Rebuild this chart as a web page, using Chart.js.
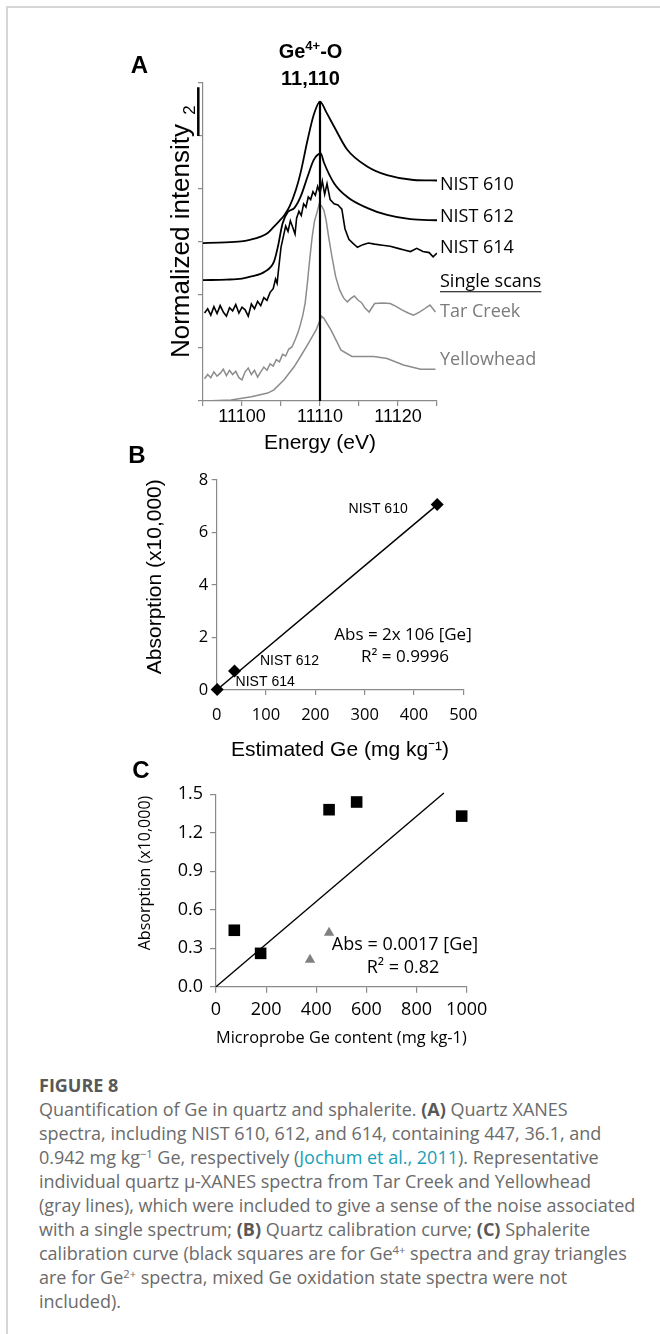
<!DOCTYPE html>
<html lang="en">
<head>
<meta charset="UTF-8">
<title>Figure 8</title>
<style>
  body {
    margin: 0;
    width: 660px;
    height: 1334px;
    position: relative;
    overflow: hidden;
    background: #fff;
  }
  .frame {
    position: absolute;
    left: 6px; top: 6px; right: 0; bottom: 0;
    border-top: 2px solid #d6d6d6;
    border-left: 2px solid #d6d6d6;
  }
  canvas { position: absolute; }
  #chartA { left: 110px; top: 30px; }
  #chartB { left: 110px; top: 440px; }
  #chartC { left: 110px; top: 760px; }
  .caption {
    position: absolute;
    left: 39px; top: 1073px;
    font-family: "Open Sans", sans-serif;
    font-size: 18px;
    line-height: 24px;
    color: #6b6b6b;
    white-space: nowrap;
  }
  .caption .fig { font-weight: bold; font-size: 18px; color: #585858; }
  .caption b { color: #585858; }
  .caption sup { font-size: 0.62em; line-height: 0; vertical-align: 0.5em; }
  .caption .ref { color: #1a9fb8; }
</style>
</head>
<body>
<div class="frame"></div>
<canvas id="chartA" width="450" height="430"></canvas>
<canvas id="chartB" width="400" height="330"></canvas>
<canvas id="chartC" width="400" height="290"></canvas>

<div class="caption">
  <div class="fig">FIGURE 8</div>
  Quantification of Ge in quartz and sphalerite. <b>(A)</b> Quartz XANES<br>
  spectra, including NIST 610, 612, and 614, containing 447, 36.1, and<br>
  0.942 mg kg<sup>−1</sup> Ge, respectively (<span class="ref">Jochum et al., 2011</span>). Representative<br>
  individual quartz μ-XANES spectra from Tar Creek and Yellowhead<br>
  (gray lines), which were included to give a sense of the noise associated<br>
  with a single spectrum; <b>(B)</b> Quartz calibration curve; <b>(C)</b> Sphalerite<br>
  calibration curve (black squares are for Ge<sup>4+</sup> spectra and gray triangles<br>
  are for Ge<sup>2+</sup> spectra, mixed Ge oxidation state spectra were not<br>
  included).
</div>

<script src="https://cdn.jsdelivr.net/npm/chart.js"></script>
<script>
  // ---- Panel A: stacked XANES spectra (energy in eV, normalized intensity offset) ----
  const energy610 = [11095, 11097, 11099.9, 11101, 11102.4, 11103.3, 11104.1, 11104.8, 11105.4, 11106.1, 11106.9, 11107.5, 11108.4, 11109.2, 11110.0, 11110.8, 11111.8, 11113.5, 11116.1, 11118.6, 11122, 11125];
  const nist610 = [2.98, 2.99, 3.01, 3.04, 3.10, 3.17, 3.29, 3.40, 3.50, 3.67, 3.98, 4.30, 4.92, 5.40, 5.65, 5.45, 5.18, 4.74, 4.42, 4.26, 4.17, 4.16];

  const energy612 = [11095, 11098, 11100, 11101.2, 11102.9, 11104.1, 11104.6, 11105.2, 11105.9, 11106.7, 11107.5, 11108.4, 11109.2, 11110.1, 11110.5, 11111.8, 11113.5, 11116.1, 11118.6, 11121.6, 11125];
  const nist612 = [2.28, 2.29, 2.31, 2.35, 2.44, 2.63, 2.91, 3.35, 3.57, 3.64, 3.85, 4.23, 4.55, 4.67, 4.50, 4.11, 3.85, 3.64, 3.51, 3.43, 3.41];

  const energy614 = [11095.2, 11095.6, 11096.0, 11096.4, 11096.8, 11097.2, 11097.6, 11098.0, 11098.4, 11098.8,
    11099.2, 11099.6, 11100.0, 11100.4, 11100.8, 11101.2, 11101.6, 11102.0, 11102.4, 11102.8,
    11103.2, 11103.6, 11104.0, 11104.3, 11104.5, 11104.7, 11105.0, 11105.3, 11105.6, 11105.9,
    11106.2, 11106.5, 11106.8, 11107.0, 11107.3, 11107.6, 11107.9, 11108.2, 11108.5, 11108.8,
    11109.1, 11109.4, 11109.7, 11110.0, 11110.3, 11110.6, 11110.9, 11111.3, 11111.8, 11112.3,
    11112.8, 11113.2, 11113.7, 11114.2, 11114.8, 11115.5, 11116.2, 11117.0, 11118.0, 11119.0,
    11120.0, 11120.8, 11121.6, 11122.4, 11123.2, 11124.0, 11124.5, 11125.0];
  const nist614 = [1.66, 1.74, 1.62, 1.78, 1.65, 1.80, 1.68, 1.60, 1.76, 1.70,
    1.82, 1.66, 1.77, 1.72, 1.60, 1.83, 1.74, 1.88, 1.80, 1.95,
    1.90, 2.05, 2.12, 2.30, 2.22, 2.50, 2.90, 3.10, 3.30, 3.20,
    3.40, 3.28, 3.15, 3.45, 3.58, 3.50, 3.72, 3.66, 3.85, 3.80,
    3.95, 3.88, 4.05, 3.92, 4.15, 3.90, 4.10, 3.80, 3.72, 3.70,
    3.62, 3.25, 3.05, 2.98, 2.90, 2.95, 2.98, 2.96, 2.94, 2.92,
    2.88, 2.85, 2.82, 2.88, 2.82, 2.80, 2.72, 2.79];

  const energyTar = [11095.2, 11095.6, 11096.0, 11096.4, 11096.8, 11097.2, 11097.6, 11098.0, 11098.4, 11098.8,
    11099.2, 11099.6, 11100.0, 11100.4, 11100.8, 11101.2, 11101.6, 11102.0, 11102.4, 11102.8,
    11103.2, 11103.6, 11104.0, 11104.4, 11104.8, 11105.2, 11105.6, 11106.0, 11106.4, 11106.8,
    11107.2, 11107.5, 11107.8, 11108.1, 11108.4, 11108.7, 11109.0, 11109.3, 11109.6, 11109.9,
    11110.2, 11110.5, 11110.8, 11111.1, 11111.5, 11112.0, 11112.5, 11113.0, 11113.5, 11114.0,
    11114.4, 11114.9, 11115.3, 11115.8, 11116.3, 11117.0, 11118.0, 11119.0, 11119.8, 11120.5,
    11121.3, 11122.0, 11122.8, 11123.5, 11124.1, 11124.8];
  const tarCreek = [0.42, 0.50, 0.44, 0.55, 0.47, 0.52, 0.60, 0.48, 0.58, 0.50,
    0.56, 0.44, 0.40, 0.55, 0.62, 0.50, 0.58, 0.45, 0.55, 0.64,
    0.58, 0.70, 0.66, 0.78, 0.74, 0.88, 0.85, 0.98, 1.02, 1.15,
    1.30, 1.45, 1.62, 1.85, 2.25, 2.70, 3.10, 3.40, 3.55, 3.72,
    3.68, 3.60, 3.40, 3.10, 2.75, 2.35, 2.10, 1.95, 1.87, 1.94,
    1.98, 1.90, 1.86, 1.75, 1.68, 1.84, 1.85, 1.84, 1.78, 1.72,
    1.66, 1.62, 1.68, 1.75, 1.81, 1.68];

  const energyYellow = [11095.2, 11098.6, 11101.2, 11103.3, 11104.1, 11105.4, 11106.7, 11107.5, 11108.4, 11109.5, 11110.2, 11110.5, 11111.4, 11112.7, 11114.1, 11116.9, 11118.6, 11120.7, 11122.9, 11124.8];
  const yellowhead = [0.0, 0.02, 0.08, 0.15, 0.21, 0.40, 0.65, 0.84, 1.06, 1.34, 1.60, 1.56, 1.34, 0.96, 0.84, 0.84, 0.80, 0.68, 0.60, 0.60];

  const peakEnergy = [11110, 11110];
  const peakLine = [0, 5.66];

  const spectrumNames = ['NIST 610', 'NIST 612', 'NIST 614', 'Single scans', 'Tar Creek', 'Yellowhead'];
  const spectrumLabelY = [4.08, 3.47, 2.89, 2.25, 1.68, 0.77];

  // ---- Panel B: quartz calibration ----
  const geEstimated = [447, 36.1, 0.942];
  const absQuartz = [7.07, 0.72, 0.02];
  const standardNames = ['NIST 610', 'NIST 612', 'NIST 614'];
  const fitQuartzX = [0, 450];
  const fitQuartzY = [0, 7.10];

  // ---- Panel C: sphalerite calibration ----
  const geMicroprobe4 = [73, 178, 451, 561, 980];
  const absGe4 = [0.44, 0.26, 1.38, 1.44, 1.33];
  const geMicroprobe2 = [375, 451];
  const absGe2 = [0.21, 0.42];
  const fitSphalX = [0, 909];
  const fitSphalY = [0, 1.51];

  const SANS = 'Liberation Sans, Arial, sans-serif';
  const OPEN = 'Open Sans, sans-serif';
  const AXIS = '#8a8a8a';
  const GRAY = '#8c8c8c';

  function pts(xs, ys) {
    return xs.map((x, i) => ({ x: x, y: ys[i] }));
  }

  function curve(xs, ys, color, width, smooth) {
    return {
      data: pts(xs, ys),
      showLine: true,
      borderColor: color,
      borderWidth: width,
      pointRadius: 0,
      cubicInterpolationMode: smooth ? 'monotone' : 'default',
      tension: 0,
      fill: false
    };
  }

  function text(ctx, str, x, y, font, color, align, rotate) {
    ctx.save();
    ctx.font = font;
    ctx.fillStyle = color || '#000';
    ctx.textAlign = align || 'center';
    ctx.textBaseline = 'middle';
    ctx.translate(x, y);
    if (rotate) ctx.rotate(rotate);
    ctx.fillText(str, 0, 0);
    ctx.restore();
  }

  function axis(opts) {
    return Object.assign({
      type: 'linear',
      grid: { drawOnChartArea: false, tickLength: 5, color: AXIS, lineWidth: 1.2 },
      border: { color: AXIS, width: 1.2 }
    }, opts);
  }

  const base = {
    animation: false,
    responsive: false,
    events: [],
    plugins: { legend: { display: false }, tooltip: { enabled: false } }
  };

  // Panel A
  new Chart(document.getElementById('chartA'), {
    type: 'scatter',
    data: {
      datasets: [
        curve(peakEnergy, peakLine, '#000', 2.2, false),
        curve(energy610, nist610, '#000', 1.8, true),
        curve(energy612, nist612, '#000', 1.8, true),
        curve(energy614, nist614, '#000', 1.6, false),
        curve(energyTar, tarCreek, GRAY, 1.5, false),
        curve(energyYellow, yellowhead, GRAY, 1.5, false)
      ]
    },
    options: Object.assign({}, base, {
      layout: { padding: { top: 53, right: 123, left: 0, bottom: 0 } },
      scales: {
        x: axis({
          min: 11095, max: 11125,
          ticks: {
            stepSize: 5, autoSkip: false, maxRotation: 0, padding: 0, color: '#000',
            font: { family: SANS, size: 18 },
            callback: v => (v % 10 === 0 ? String(v) : '')
          },
          title: { display: true, text: 'Energy (eV)', color: '#000', font: { family: SANS, size: 21 }, padding: { top: 0, bottom: 4.4 } },
          afterFit: s => { s.height = 59; }
        }),
        y: axis({
          min: 0, max: 6,
          ticks: { stepSize: 1, padding: 0, callback: () => '' },
          afterFit: s => { s.width = 93; }
        })
      }
    }),
    plugins: [{
      id: 'panelAText',
      afterDraw(chart) {
        const ctx = chart.ctx, xs = chart.scales.x, ys = chart.scales.y, area = chart.chartArea;
        text(ctx, 'A', 29.5, 36.5, 'bold 24px ' + SANS);
        text(ctx, 'Normalized intensity', 71.7, (area.top + area.bottom) / 2 - 1, '26px ' + SANS, '#000', 'center', -Math.PI / 2);

        // scale bar
        ctx.save();
        ctx.strokeStyle = '#000';
        ctx.lineWidth = 2.5;
        ctx.beginPath();
        ctx.moveTo(area.left - 4.7, ys.getPixelForValue(5.92));
        ctx.lineTo(area.left - 4.7, ys.getPixelForValue(5.0));
        ctx.stroke();
        ctx.restore();
        text(ctx, '2', area.left - 13, ys.getPixelForValue(5.49), '17px ' + SANS, '#000', 'center', -Math.PI / 2);

        // peak annotation: Ge4+-O / 11,110
        const cx = xs.getPixelForValue(11110) - 9.5;
        ctx.save();
        ctx.fillStyle = '#000';
        ctx.textBaseline = 'middle';
        const big = 'bold 20px ' + SANS, small = 'bold 13px ' + SANS;
        ctx.font = big; const w1 = ctx.measureText('Ge').width, w3 = ctx.measureText('-O').width;
        ctx.font = small; const w2 = ctx.measureText('4+').width;
        let x0 = cx - (w1 + w2 + w3) / 2;
        ctx.textAlign = 'left';
        ctx.font = big; ctx.fillText('Ge', x0, 22);
        ctx.font = small; ctx.fillText('4+', x0 + w1, 16);
        ctx.font = big; ctx.fillText('-O', x0 + w1 + w2, 22);
        ctx.restore();
        text(ctx, '11,110', cx, 49, big);

        // curve labels
        spectrumNames.forEach((name, i) => {
          const gray = name === 'Tar Creek' || name === 'Yellowhead';
          const y = ys.getPixelForValue(spectrumLabelY[i]);
          text(ctx, name, area.right + 3, y, '18px ' + OPEN, gray ? '#7b7b7b' : '#000', 'left');
          if (name === 'Single scans') {
            ctx.save();
            ctx.font = '18px ' + OPEN;
            const w = ctx.measureText(name).width;
            ctx.strokeStyle = '#000';
            ctx.lineWidth = 1.2;
            ctx.beginPath();
            ctx.moveTo(area.right + 3, y + 10);
            ctx.lineTo(area.right + 3 + w, y + 10);
            ctx.stroke();
            ctx.restore();
          }
        });
      }
    }]
  });

  // Panel B
  new Chart(document.getElementById('chartB'), {
    type: 'scatter',
    data: {
      datasets: [
        {
          data: pts(geEstimated, absQuartz),
          pointStyle: 'rectRot', pointRadius: 6.5,
          pointBackgroundColor: '#000', pointBorderColor: '#000', pointBorderWidth: 0,
          clip: false
        },
        Object.assign(curve(fitQuartzX, fitQuartzY, '#000', 1.5, false), { clip: false })
      ]
    },
    options: Object.assign({}, base, {
      layout: { padding: { top: 40, right: 46.7, left: 0, bottom: 0 } },
      scales: {
        x: axis({
          min: 0, max: 500,
          ticks: { stepSize: 100, padding: 10, color: '#000', maxRotation: 0, font: { family: OPEN, size: 16.5 } },
          title: { display: true, text: 'Estimated Ge (mg kg\u207B\u00B9)', color: '#000', font: { family: SANS, size: 21 }, padding: { top: 0, bottom: 7.4 } },
          afterFit: s => { s.height = 80; }
        }),
        y: axis({
          min: 0, max: 8,
          ticks: { stepSize: 2, padding: 3.4, color: '#000', font: { family: OPEN, size: 16.5 } },
          afterFit: s => { s.width = 106.7; }
        })
      }
    }),
    plugins: [{
      id: 'panelBText',
      afterDraw(chart) {
        const ctx = chart.ctx, xs = chart.scales.x, ys = chart.scales.y;
        text(ctx, 'B', 27, 16, 'bold 24px ' + SANS);
        text(ctx, 'Absorption (x10,000)', 45, 136.7, '21px ' + SANS, '#000', 'center', -Math.PI / 2);
        const offsets = [[-59, 5], [55, -10], [48, -7]];
        standardNames.forEach((name, i) => {
          text(ctx, name, xs.getPixelForValue(geEstimated[i]) + offsets[i][0],
            ys.getPixelForValue(absQuartz[i]) + offsets[i][1], '14px ' + SANS);
        });
        text(ctx, 'Abs = 2x 106 [Ge]', 293, 195, '17px ' + OPEN);
        text(ctx, 'R\u00B2 = 0.9996', 295, 217, '17px ' + OPEN);
      }
    }]
  });

  // Panel C
  new Chart(document.getElementById('chartC'), {
    type: 'scatter',
    data: {
      datasets: [
        {
          data: pts(geMicroprobe4, absGe4),
          pointStyle: 'rect', pointRadius: 8.2,
          pointBackgroundColor: '#000', pointBorderColor: '#000', pointBorderWidth: 0,
          clip: false
        },
        {
          data: pts(geMicroprobe2, absGe2),
          pointStyle: 'triangle', pointRadius: 6,
          pointBackgroundColor: '#808080', pointBorderColor: '#808080', pointBorderWidth: 0,
          clip: false
        },
        Object.assign(curve(fitSphalX, fitSphalY, '#000', 1.4, false), { clip: false })
      ]
    },
    options: Object.assign({}, base, {
      layout: { padding: { top: 34.3, right: 43.3, left: 0, bottom: 0 } },
      scales: {
        x: axis({
          min: 0, max: 1000,
          grid: { drawOnChartArea: false, tickLength: 6, color: AXIS, lineWidth: 1.2 },
          ticks: { stepSize: 200, padding: 6.5, color: '#000', maxRotation: 0, font: { family: OPEN, size: 18 }, callback: v => String(v) },
          title: { display: true, text: 'Microprobe Ge content (mg kg-1)', color: '#000', font: { family: OPEN, size: 17 }, padding: { top: 0, bottom: 1.8 } },
          afterFit: s => { s.height = 63.3; }
        }),
        y: axis({
          min: 0, max: 1.5,
          grid: { drawOnChartArea: false, tickLength: 6, color: AXIS, lineWidth: 1.2 },
          ticks: { stepSize: 0.3, padding: 7, color: '#000', font: { family: OPEN, size: 18 }, callback: v => v.toFixed(1) },
          afterFit: s => { s.width = 106; }
        })
      }
    }),
    plugins: [{
      id: 'panelCText',
      afterDraw(chart) {
        const ctx = chart.ctx;
        text(ctx, 'C', 31, 11.5, 'bold 24px ' + SANS);
        text(ctx, 'Absorption (x10,000)', 35, 113, '16px ' + OPEN, '#000', 'center', -Math.PI / 2);
        text(ctx, 'Abs = 0.0017 [Ge]', 295, 185, '18px ' + OPEN);
        text(ctx, 'R\u00B2 = 0.82', 293, 208, '18px ' + OPEN);
      }
    }]
  });
</script>
</body>
</html>
